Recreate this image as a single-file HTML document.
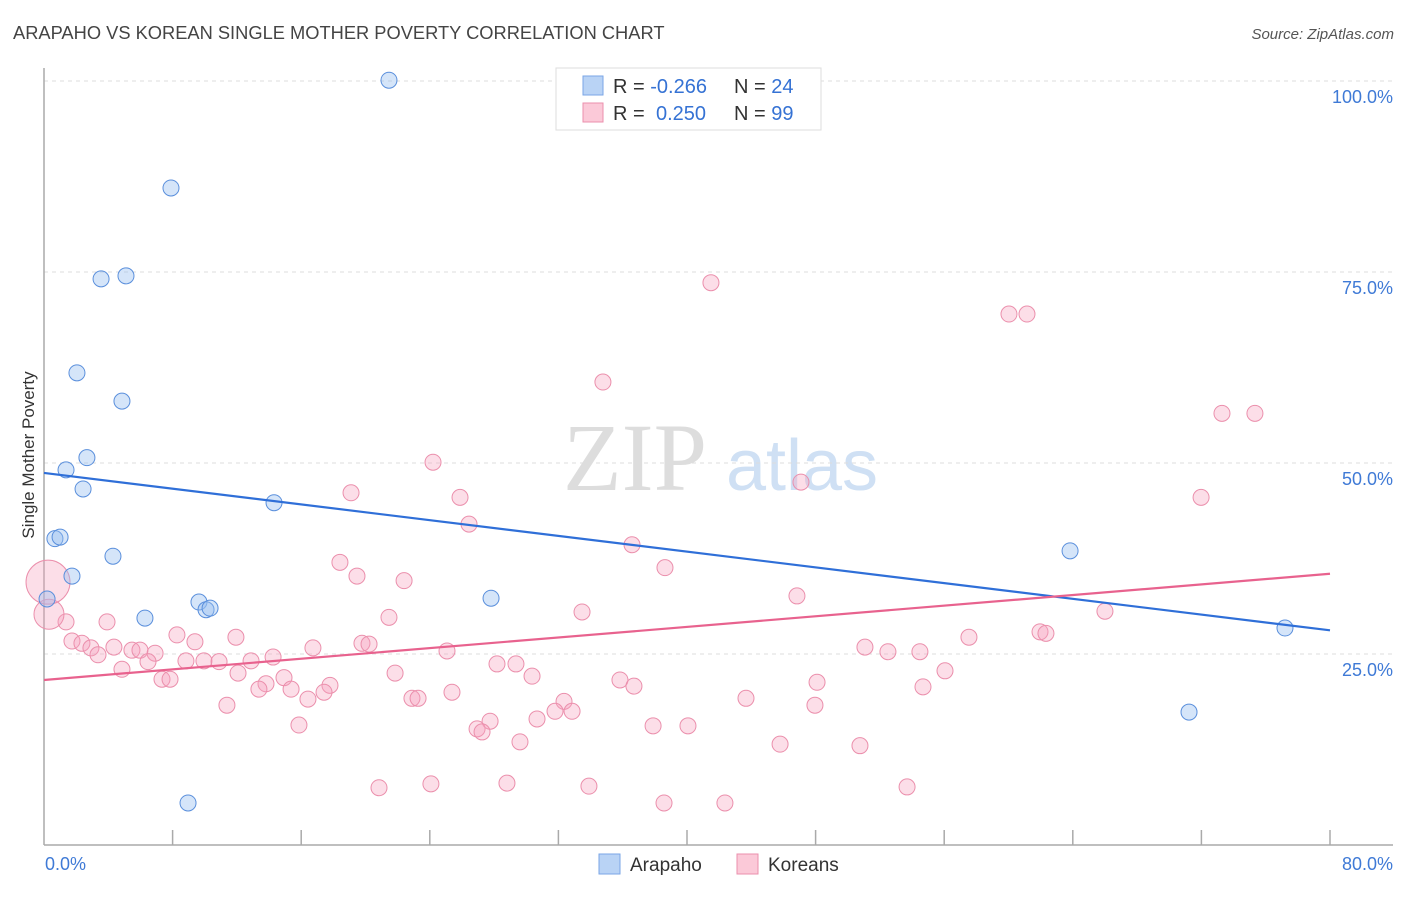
<!DOCTYPE html>
<html><head><meta charset="utf-8"><style>
body{margin:0;background:#fff;font-family:"Liberation Sans",sans-serif}
</style></head><body>
<svg id="chart" width="1406" height="892" xmlns="http://www.w3.org/2000/svg" font-family="Liberation Sans, sans-serif">
<text x="13" y="39" font-size="18.3" fill="#444">ARAPAHO VS KOREAN SINGLE MOTHER POVERTY CORRELATION CHART</text>
<text x="1394" y="39" font-size="15" fill="#555" text-anchor="end" font-style="italic">Source: ZipAtlas.com</text>
<g>
<text x="635" y="490" font-size="96" font-family="Liberation Serif, serif" fill="#ddd" text-anchor="middle">ZIP</text>
<text x="802" y="490" font-size="72" fill="#cfe0f4" text-anchor="middle">atlas</text>
</g>
<g id="grid"></g>
<g id="axes"></g>
<text transform="translate(34,455) rotate(-90)" font-size="17" fill="#333" text-anchor="middle">Single Mother Poverty</text>
<g id="marks"></g>
<g>
<rect x="556" y="68" width="265" height="62" fill="#fff" stroke="#ddd"/>
<rect x="583" y="76" width="20" height="19" fill="#b9d3f5" stroke="#7aa6e6"/>
<rect x="583" y="103" width="20" height="19" fill="#fbc9d8" stroke="#eb8fac"/>
<text x="613" y="93" font-size="20" fill="#333">R = <tspan fill="#3572d4">-0.266</tspan></text>
<text x="734" y="93" font-size="20" fill="#333">N = <tspan fill="#3572d4">24</tspan></text>
<text x="613" y="120" font-size="20" fill="#333">R = <tspan fill="#3572d4" x="656">0.250</tspan></text>
<text x="734" y="120" font-size="20" fill="#333">N = <tspan fill="#3572d4">99</tspan></text>
</g>
<g>
<rect x="599" y="854" width="21" height="20" fill="#b9d3f5" stroke="#7aa6e6"/>
<text x="630" y="871" font-size="19" fill="#333">Arapaho</text>
<rect x="737" y="854" width="21" height="20" fill="#fbc9d8" stroke="#eb8fac"/>
<text x="768" y="871" font-size="19" fill="#333">Koreans</text>
</g>
</svg>
<script>
const yTicks=[25,50,75,100];
const yTickLabels=["25.0%","50.0%","75.0%","100.0%"];
const xTickVals=[0,8,16,24,32,40,48,56,64,72,80];
const xEndLabels=["0.0%","80.0%"];
const arapahoX=[21.46,7.9,3.55,5.1,2.05,4.85,1.37,2.67,2.43,14.31,0.68,1.0,4.29,1.74,0.19,6.28,9.64,10.08,10.33,27.81,8.96,63.83,77.2,71.23];
const arapahoY=[100.1,86.0,74.1,74.5,61.8,58.1,49.1,50.7,46.6,44.8,40.1,40.3,37.8,35.2,32.2,29.7,31.8,30.8,31.0,32.3,5.5,38.5,28.4,17.4];
const koreansX=[41.49,60.03,61.15,34.77,73.28,75.33,24.2,47.09,71.98,19.1,25.88,26.44,36.58,38.63,18.41,19.47,22.4,46.84,66.0,33.47,21.46,3.92,1.37,0.31,0.25,8.27,11.94,57.54,61.96,62.33,1.74,2.36,2.92,4.35,5.47,5.97,6.91,9.39,16.73,19.78,20.22,25.07,3.36,51.07,52.5,54.49,8.83,9.95,10.89,12.88,14.25,6.47,4.85,12.07,21.84,30.36,56.05,7.34,7.84,14.93,13.81,15.37,17.79,17.42,13.37,28.18,29.36,35.83,36.7,48.09,54.68,25.38,16.42,22.89,23.27,11.38,43.67,32.35,31.79,32.85,47.96,15.86,27.75,26.94,27.25,30.67,37.89,40.06,29.61,45.79,50.76,20.84,24.07,28.8,33.9,38.57,42.36,53.69];
const koreansY=[73.6,69.5,69.5,60.6,56.5,56.5,50.1,47.5,45.5,46.1,45.5,42.0,39.3,36.3,37.0,35.2,34.6,32.6,30.6,30.5,29.8,29.2,29.2,30.2,34.4,27.5,27.2,27.2,27.9,27.7,26.7,26.4,25.8,25.9,25.5,25.5,25.1,26.6,25.8,26.4,26.3,25.4,24.9,25.9,25.3,25.3,24.1,24.1,24.0,24.1,24.6,24.0,23.0,22.5,22.5,22.1,22.8,21.7,21.7,21.9,21.1,20.4,20.9,20.0,20.4,23.7,23.7,21.6,20.8,21.3,20.7,20.0,19.1,19.2,19.2,18.3,19.2,18.8,17.5,17.5,18.3,15.7,16.2,15.2,14.8,16.5,15.6,15.6,13.5,13.2,13.0,7.5,8.0,8.1,7.7,5.5,5.5,7.6];
const koreansBig={23:15,24:22};
const trendArapaho=[48.7,28.1];
const trendKoreans=[21.6,35.5];
const NS="http://www.w3.org/2000/svg";
const xs=v=>44+v*(1286/80);
const ys=v=>845-v*7.64;
function mk(tag,attrs,parent){const e=document.createElementNS(NS,tag);for(const k in attrs)e.setAttribute(k,attrs[k]);document.getElementById(parent).appendChild(e);return e;}
yTicks.forEach((t,i)=>{
 const l=mk('line',{x1:44,x2:1393,y1:ys(t),y2:ys(t),stroke:'#ddd','stroke-dasharray':'4,4'},'grid');
 
 
 const tx=mk('text',{x:1393,y:ys(t)+22,'font-size':18,fill:'#3f7ad6','text-anchor':'end'},'axes');
 tx.textContent=yTickLabels[i];
 
 
});
let a=mk('line',{x1:44,x2:44,y1:68,y2:845,stroke:'#aaa','stroke-width':1.5},'axes');


a=mk('line',{x1:44,x2:1393,y1:845,y2:845,stroke:'#aaa','stroke-width':1.5},'axes');


xTickVals.slice(1).forEach(v=>{
 const t=mk('line',{x1:xs(v),x2:xs(v),y1:830,y2:845,stroke:'#aaa','stroke-width':1.5},'axes');
 
 
});
let xl=mk('text',{x:45,y:870,'font-size':18,fill:'#3f7ad6'},'axes');xl.textContent=xEndLabels[0];


xl=mk('text',{x:1393,y:870,'font-size':18,fill:'#3f7ad6','text-anchor':'end'},'axes');xl.textContent=xEndLabels[1];


koreansX.forEach((x,i)=>{
 const c=mk('circle',{cx:xs(x),cy:ys(koreansY[i]),r:koreansBig[i]||8,fill:'rgba(246,160,188,0.35)',stroke:'#eb8fac','stroke-width':1},'marks');
 
 
});
arapahoX.forEach((x,i)=>{
 const c=mk('circle',{cx:xs(x),cy:ys(arapahoY[i]),r:8,fill:'rgba(150,190,240,0.4)',stroke:'#5a8fdc','stroke-width':1},'marks');
 
 
});
let tl=mk('line',{x1:xs(0),x2:xs(80),y1:ys(trendArapaho[0]),y2:ys(trendArapaho[1]),stroke:'#2f6fd8','stroke-width':2.2},'marks');


tl=mk('line',{x1:xs(0),x2:xs(80),y1:ys(trendKoreans[0]),y2:ys(trendKoreans[1]),stroke:'#e8628e','stroke-width':2.2},'marks');


</script>
</body></html>
